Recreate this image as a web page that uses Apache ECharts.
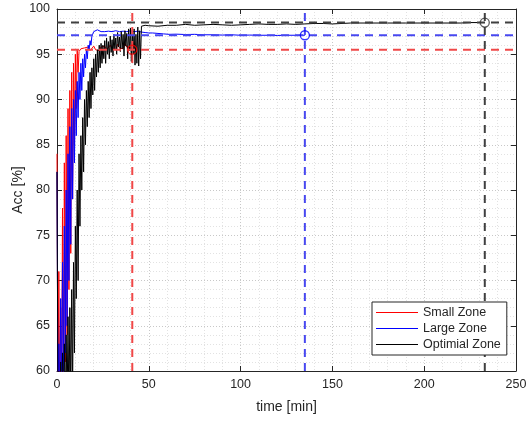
<!DOCTYPE html>
<html>
<head>
<meta charset="utf-8">
<script src="https://cdn.jsdelivr.net/npm/echarts@6/dist/echarts.min.js"></script>
<style>html,body{margin:0;padding:0;background:#fff}#c{width:528px;height:421px}</style>
</head>
<body>
<div id="c"></div>
<script>
// ---- data ----
const seriesNames = ['Small Zone', 'Large Zone', 'Optimial Zone'];

const smallT = [0,0.5,1,1.5,2,2.5,3,3.5,4,4.5,5,5.5,6,6.5,7,7.5,8,8.5,9,9.5,10,10.5,11,11.5,12,13,14,15,16,17,18,19,20,21,22,23,24,25,26,27,28,29,30,31,32,33,34,35,36,37,38,39,40,41];
const smallV = [84,57,71,55,67,56,78,58,83,61,86,64,89,69,91,73,93,79,94,85,95,89,95.5,93,95.3,95.6,95.4,95.7,95.5,95.8,95.4,95.6,95.9,95.5,95.7,95.4,95.8,95.6,95.9,95.5,95.7,96.0,95.6,95.8,95.5,96.1,95.7,95.9,95.6,96.2,95.8,96.0,95.7,95.5];

const largeT = [0,0.5,1,1.5,2,2.5,3,3.5,4,4.5,5,5.5,6,6.5,7,7.5,8,8.5,9,9.5,10,10.5,11,11.5,12,12.5,13,13.5,14,14.5,15,15.5,16,16.5,17,17.5,18,18.5,19,19.5,20,21,22,23,24,25,26,28,30,32,34,36,38,40,42,44,46,48,50,52,55,58,61,65,70,75,80,85,90,95,100,105,110,115,120,125,130,135];
const largeV = [82,58,63,57,68,58,72,59,76,62,80,65,84,70,87,74,89,79,90,83,91,86,92,88,93,90,94,91,94.5,92.5,95,93.5,95.5,94.5,96,95.5,96.5,96,97,97.2,97.5,97.6,97.7,97.6,97.5,97.6,97.5,97.55,97.5,97.6,97.5,97.55,97.5,97.6,97.5,97.55,97.45,97.4,97.35,97.35,97.3,97.25,97.2,97.22,97.18,97.2,97.15,97.15,97.12,97.15,97.1,97.12,97.1,97.1,97.08,97.1,97.1,97.1];

const optT = [0,0.5,1,1.5,2,2.5,3,3.5,4,4.5,5,5.5,6,6.5,7,7.5,8,8.5,9,9.5,10,10.5,11,11.5,12,12.5,13,13.5,14,14.5,15,15.5,16,16.5,17,17.5,18,18.5,19,19.5,20,20.5,21,21.5,22,22.5,23,23.5,24,24.5,25,25.5,26,26.5,27,27.5,28,28.5,29,29.5,30,30.5,31,31.5,32,32.5,33,33.5,34,34.5,35,35.5,36,36.5,37,37.5,38,38.5,39,39.5,40,40.5,41,41.5,42,42.5,43,43.5,44,44.5,45,45.5,46,47,48,50,55,60,65,70,75,80,85,90,95,100,105,110,115,120,125,130,135,140,145,150,160,170,180,190,200,210,220,225,233];
const optV = [82,57,60,56,61,55,62,56,63,55,64,56,66,55,67,57,69,58,72,62,76,68,80,70,84,76,86,80,88,82,90,85,91,87,92,88,93,89,93.5,90.5,94.5,91,95,92.5,95.5,93,96,93.5,96.2,94,96,94.5,96.5,94,96.8,95,96.4,94.5,97,95.2,96.6,94.8,97.2,95.5,96.8,95,97.4,95.8,96.9,95.3,97.5,95.6,97.2,94.8,97.6,95.9,97.3,94.5,97.8,95.4,97.9,94.2,97.5,95,97.8,93.8,97.2,94,98,93.7,97.6,94.5,98.1,97.9,98.2,98.15,98.1,98.2,98.2,98.3,98.2,98.25,98.3,98.25,98.2,98.25,98.3,98.35,98.3,98.3,98.35,98.3,98.35,98.4,98.4,98.35,98.45,98.45,98.45,98.45,98.45,98.45,98.45,98.5,98.5];

const xTicks = [0, 250, 50];   // min, max, step
const yTicks = [60, 100, 5];

// ---- build ----
const lineColors = ['#ff0000', '#0000ff', '#000000'];
const refColors = ['#f04848', '#4848f0', '#404040'];
const circleColors = ['#ff0000', '#0000ff', '#333333'];
const dataSets = [[smallT, smallV], [largeT, largeV], [optT, optV]].map(([t, v]) => t.map((x, i) => [x, v[i]]));
const ends = dataSets.map(d => d[d.length - 1]);

const txt = '#262626';
const fontFam = '"Liberation Sans", Arial, Helvetica, sans-serif';

function xAx(pos, main) {
  return {
    type: 'value', position: pos, min: xTicks[0], max: xTicks[1], interval: xTicks[2],
    axisLine: {show: true, onZero: false, lineStyle: {color: txt, width: 1}},
    axisTick: {show: true, inside: true, length: 5, lineStyle: {color: txt}},
    axisLabel: {show: main, color: txt, fontSize: 12.5, fontFamily: fontFam, margin: 7},
    splitLine: {show: main, lineStyle: {color: '#c8c8c8', type: [1, 2]}},
    minorTick: {show: false, splitNumber: 5},
    minorSplitLine: {show: main, lineStyle: {color: '#e2e2e2', type: [1, 2]}},
    name: main ? 'time [min]' : '', nameLocation: 'middle', nameGap: 29, nameMoveOverlap: false,
    nameTextStyle: {color: txt, fontSize: 14, fontFamily: fontFam}
  };
}
function yAx(pos, main) {
  return {
    type: 'value', position: pos, min: yTicks[0], max: yTicks[1], interval: yTicks[2],
    axisLine: {show: true, onZero: false, lineStyle: {color: txt, width: 1}},
    axisTick: {show: true, inside: true, length: 5, lineStyle: {color: txt}},
    axisLabel: {show: main, color: txt, fontSize: 12.5, fontFamily: fontFam, margin: 7},
    splitLine: {show: main, lineStyle: {color: '#c8c8c8', type: [1, 2]}},
    minorTick: {show: false, splitNumber: 5},
    minorSplitLine: {show: main, lineStyle: {color: '#e2e2e2', type: [1, 2]}},
    name: main ? 'Acc [%]' : '', nameLocation: 'middle', nameGap: 32, nameMoveOverlap: false,
    nameTextStyle: {color: txt, fontSize: 14, fontFamily: fontFam}
  };
}

const series = [];
dataSets.forEach((d, i) => {
  series.push({
    name: seriesNames[i], type: 'line', data: d, showSymbol: false, symbol: 'none',
    lineStyle: {color: lineColors[i], width: 1}, itemStyle: {color: lineColors[i]},
    clip: true, z: 2 + i, animation: false
  });
});
ends.forEach((p, i) => {
  const ref = {color: refColors[i], width: 2, type: [8, 6]};
  series.push({
    type: 'line', data: [[xTicks[0], p[1]], [xTicks[1], p[1]]], showSymbol: false, symbol: 'none',
    lineStyle: ref, z: 10, silent: true, animation: false
  });
  series.push({
    type: 'line', data: [[p[0], yTicks[0]], [p[0], yTicks[1]]], showSymbol: false, symbol: 'none',
    lineStyle: ref, z: 10, silent: true, animation: false
  });
  series.push({
    type: 'scatter', data: [p], symbol: 'circle', symbolSize: 9, z: 11,
    itemStyle: {color: 'rgba(255,255,255,0)', borderColor: circleColors[i], borderWidth: 1.3},
    silent: true, animation: false
  });
});

const chart = echarts.init(document.getElementById('c'), null, {renderer: 'canvas'});
chart.setOption({
  animation: false,
  backgroundColor: '#fff',
  grid: {left: 57, right: 12, top: 9, bottom: 50, containLabel: false, outerBoundsMode: 'none'},
  xAxis: [xAx('bottom', true), xAx('top', false)],
  yAxis: [yAx('left', true), yAx('right', false)],
  legend: {
    data: seriesNames, orient: 'vertical', left: 372, top: 302, z: 30,
    icon: 'rect', itemWidth: 42, itemHeight: 1.2, itemGap: 3,
    padding: [4, 6, 4, 4], borderColor: txt, borderWidth: 1, backgroundColor: '#fff',
    textStyle: {color: txt, fontSize: 12.5, fontFamily: fontFam}
  },
  series: series
});
</script>
</body>
</html>
